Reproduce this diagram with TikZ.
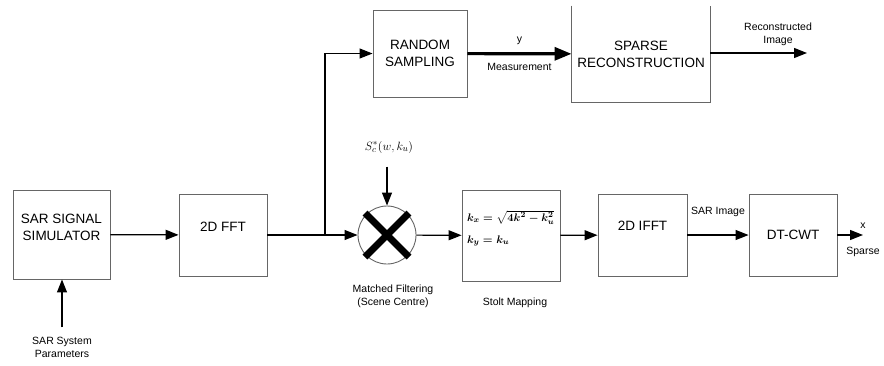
\documentclass[tikz,border=0pt]{standalone}
\usepackage{fontspec}
\setmainfont{Liberation Sans}
\usepackage{amsmath}
\usetikzlibrary{arrows.meta}

\begin{document}
\begin{tikzpicture}[x=1pt, y=-1pt,
  edge/.style={draw=black!60, line width=.9pt},
  blk/.style={edge, align=center, font=\fontsize{13.5}{17}\selectfont},
  lab/.style={align=center, font=\fontsize{10.5}{13}\selectfont},
  arr/.style={-{Triangle[length=13pt,width=10pt]}, line width=1.2pt},
  fatarr/.style={-{Triangle[length=17pt,width=13pt]}, line width=3.2pt}]
  \useasboundingbox (0,0) rectangle (884,365);
  % blocks on the lower row
  \node[blk, minimum width=97, minimum height=89, text depth=15pt] (sim) at (61.5,234.5) {SAR SIGNAL\\SIMULATOR};
  \node[blk, minimum width=88, minimum height=82, text depth=16pt] (fft) at (223,235) {2D FFT};
  \node[edge, circle, minimum size=58] (mix) at (387,235) {};
  \node[blk, minimum width=98, minimum height=91, inner xsep=5pt, text width=88pt, align=left,
        text height=15pt, text depth=44pt, font=\fontsize{11}{15}\selectfont\boldmath] (stolt) at (511,235.5)
        {\mbox{$k_x = \sqrt{4k^2 - k_u^2}$}\\[7pt]\mbox{$k_y = k_u$}};
  \node[blk, minimum width=89, minimum height=82, text depth=18pt] (ifft) at (642.5,235) {2D IFFT};
  \node[blk, minimum width=88, minimum height=82] (dtcwt) at (793,235) {DT-CWT};
  % blocks on the upper row
  \node[blk, minimum width=94, minimum height=87] (rs) at (420,53.5) {RANDOM\\SAMPLING};
  \node[blk, draw=none, minimum width=138, minimum height=96] (rec) at (641,54) {SPARSE\\RECONSTRUCTION};
  \draw[edge] (rec.north west) -- (rec.south west) -- (rec.south east) -- (rec.north east);
  \draw[line width=7pt] ([shift={(-22,-22)}]mix.center) -- ([shift={(22,22)}]mix.center);
  \draw[line width=7pt] ([shift={(-22,22)}]mix.center) -- ([shift={(22,-22)}]mix.center);
  % free texts
  \node[lab] (param) at (62,347) {SAR System\\Parameters};
  \node[font=\fontsize{12.5}{15}\selectfont] (ref) at (389,147) {$S_c^*(w,k_u)$};
  \node[lab] (mflab) at (393,296) {Matched Filtering\\(Scene Centre)};
  \node[lab] (stlab) at (515,303) {Stolt Mapping};
  \coordinate (j) at (325,235);
  \coordinate (xout) at (863,235);
  \coordinate (imout) at (807,53);
  % connectors
  \foreach \a/\b in {sim/fft, mix/stolt, stolt/ifft} {
    \draw[arr] (\a) -- (\b);
  }
  \draw[arr, shorten <=6pt] (param.north) -- (param.north |- sim.south);
  \draw[arr, shorten <=10pt] (mix.north |- ref.south) -- (mix.north);
  \draw[line width=1.2pt] (fft) -- (j);
  \draw[arr] (j) -- (mix);
  \draw[arr] (j) |- (rs.west);
  \draw[fatarr] (rs) -- (rec)
    node[lab, midway, above=4pt] {y}
    node[lab, midway, below=5pt] {Measurement};
  \draw[arr] (rec.east |- imout) -- (imout)
    node[lab, pos=.7, above=3pt] {Reconstructed\\Image};
  \draw[arr] (ifft) -- (dtcwt) node[lab, midway, above=14pt] {SAR Image};
  \draw[arr] (dtcwt) -- (xout)
    node[lab, pos=1, above=3pt] {x}
    node[lab, pos=1, below=8pt] {Sparse};
\end{tikzpicture}
\end{document}
